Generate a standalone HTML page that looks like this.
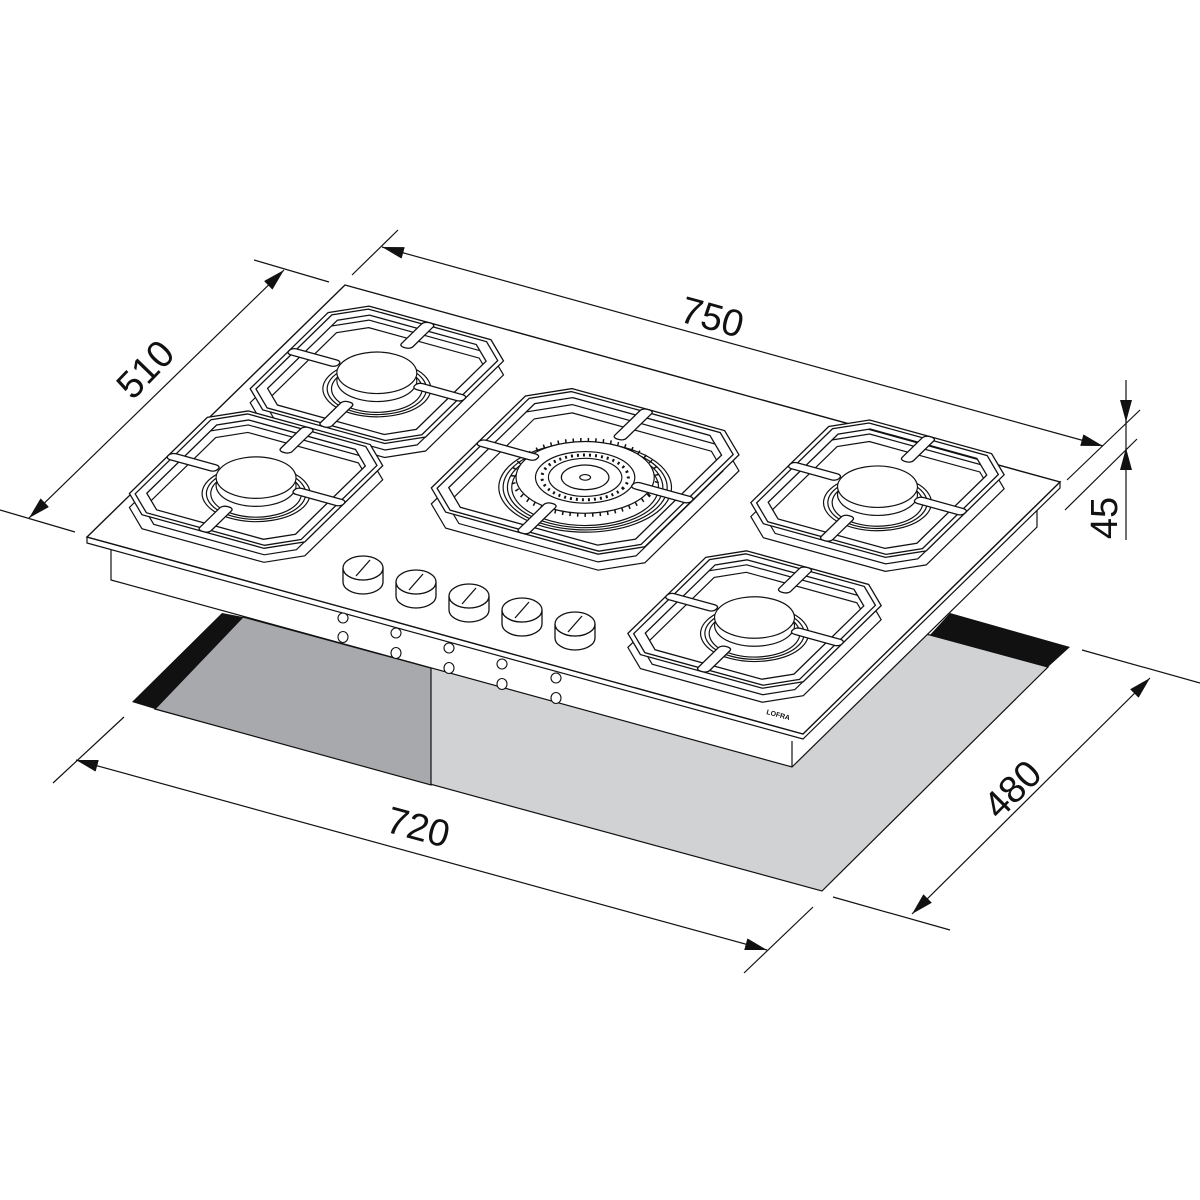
<!DOCTYPE html>
<html><head><meta charset="utf-8">
<style>
html,body{margin:0;padding:0;background:#fff;}
svg{display:block}
svg *{vector-effect:non-scaling-stroke}
.t{font-family:"Liberation Sans",Arial,sans-serif;font-size:38px;fill:#111}
</style></head>
<body>
<svg width="1200" height="1200" viewBox="0 0 1200 1200" xmlns="http://www.w3.org/2000/svg">
<defs>
<marker id="ar" viewBox="0 0 22 12" refX="22" refY="6" markerWidth="22" markerHeight="12" markerUnits="userSpaceOnUse" orient="auto-start-reverse">
<path d="M0,0 L22,6 L0,12 Z" fill="#111"/>
</marker>
<!-- small burner (plane coords) -->
<g id="sBase" fill="#fff" stroke="#111" stroke-width="1.2">
<path d="M-64,-105 L64,-105 L92,-77 L92,77 L64,105 L-64,105 L-92,77 L-92,-77 Z"/>
<path d="M-58,-93 L58,-93 L80,-71 L80,71 L58,93 L-58,93 L-80,71 L-80,-71 Z" fill="none"/>
<circle r="50"/><circle r="46" fill="none"/><circle r="42" fill="none"/>
</g>
<g id="sCap" fill="#fff" stroke="#111" stroke-width="1.2"><circle r="37"/></g>
<g id="sTop" fill="#fff" stroke="#111" stroke-width="1.3">
<path fill-rule="evenodd" d="M-64,-105 L64,-105 L92,-77 L92,77 L64,105 L-64,105 L-92,77 L-92,-77 Z M-56,-91 L56,-91 L78,-69 L78,69 L56,91 L-56,91 L-78,69 L-78,-69 Z"/>
<path fill="none" d="M-62,-100 L62,-100 L87,-75 L87,75 L62,100 L-62,100 L-87,75 L-87,-75 Z"/>
<rect x="-92" y="-6" width="52" height="12" rx="5"/>
<rect x="40" y="-6" width="52" height="12" rx="5"/>
<rect x="-6" y="-105" width="12" height="50" rx="5"/>
<rect x="-6" y="55" width="12" height="50" rx="5"/>
</g>
<!-- big burner -->
<g id="bBase" fill="#fff" stroke="#111" stroke-width="1.2">
<path d="M-80,-125 L80,-125 L112,-93 L112,93 L80,125 L-80,125 L-112,93 L-112,-93 Z"/>
<path d="M-73,-112 L73,-112 L99,-86 L99,86 L73,112 L-73,112 L-99,86 L-99,-86 Z" fill="none"/>
<circle r="80"/><circle r="76" fill="none"/><circle r="72" fill="none"/>
<circle r="68" fill="none"/>
</g>
<g id="bCap" fill="#fff" stroke="#111" stroke-width="1.2">
<circle r="64"/>
<circle r="67" fill="none" stroke-width="4" stroke-dasharray="1.5 6"/>
<circle r="46"/><circle r="40" fill="none" stroke-width="3" stroke-dasharray="2 4"/>
<circle r="34"/><circle r="22" fill="none"/><circle r="5" fill="none"/>
</g>
<g id="bTop" fill="#fff" stroke="#111" stroke-width="1.3">
<path fill-rule="evenodd" d="M-80,-125 L80,-125 L112,-93 L112,93 L80,125 L-80,125 L-112,93 L-112,-93 Z M-72,-111 L72,-111 L98,-85 L98,85 L72,111 L-72,111 L-98,85 L-98,-85 Z"/>
<path fill="none" d="M-78,-120 L78,-120 L107,-91 L107,91 L78,120 L-78,120 L-107,91 L-107,-91 Z"/>
<rect x="-112" y="-6" width="62" height="12" rx="5"/>
<rect x="50" y="-6" width="62" height="12" rx="5"/>
<rect x="-6" y="-125" width="12" height="60" rx="5"/>
<rect x="-6" y="65" width="12" height="60" rx="5"/>
</g>
</defs>

<!-- cutout -->
<polygon points="155,709 243,617 600,560 930,635 1048,667 822,891" fill="#d1d2d4" stroke="#111" stroke-width="1.2"/>
<polygon points="155,709 243,617 431,668 431,785" fill="#a7a9ac" stroke="#111" stroke-width="1.2"/>
<polygon points="132,702 222,613 243,617 155,709" fill="#111"/>
<polygon points="930,635 950,613 1070,647 1048,667" fill="#111"/>

<!-- hob body -->
<polygon points="111,543 111,580 792,767 1037,527 1037,500 803,739" fill="#fff" stroke="#111" stroke-width="1.2"/>
<line x1="792" y1="741" x2="792" y2="767" stroke="#111" stroke-width="1.2"/>
<!-- plate -->
<polygon points="87,543 803,739 1060,488 1060,482 803,734 87,537" fill="#fff" stroke="#111" stroke-width="1.2"/>
<polygon points="345,285 1060,482 803,734 87,537" fill="#fff" stroke="#111" stroke-width="1.4"/>

<!-- burners: back ones first -->
<g>
<use href="#sBase" transform="matrix(0.9533,0.2627,-0.5059,0.4941,345,285) translate(113,150)"/>
<use href="#sCap" transform="translate(0,-8) matrix(0.9533,0.2627,-0.5059,0.4941,345,285) translate(113,150)"/>
<use href="#sCap" transform="translate(0,-16) matrix(0.9533,0.2627,-0.5059,0.4941,345,285) translate(113,150)"/>
<use href="#sTop" transform="translate(0,-14) matrix(0.9533,0.2627,-0.5059,0.4941,345,285) translate(113,150)"/>

<use href="#sBase" transform="matrix(0.9533,0.2627,-0.5059,0.4941,345,285) translate(618,112)"/>
<use href="#sCap" transform="translate(0,-8) matrix(0.9533,0.2627,-0.5059,0.4941,345,285) translate(618,112)"/>
<use href="#sCap" transform="translate(0,-16) matrix(0.9533,0.2627,-0.5059,0.4941,345,285) translate(618,112)"/>
<use href="#sTop" transform="translate(0,-14) matrix(0.9533,0.2627,-0.5059,0.4941,345,285) translate(618,112)"/>

<use href="#bBase" transform="matrix(0.9533,0.2627,-0.5059,0.4941,345,285) translate(366,215)"/>
<use href="#bCap" transform="translate(0,-10) matrix(0.9533,0.2627,-0.5059,0.4941,345,285) translate(366,215)"/>
<use href="#bTop" transform="translate(0,-16) matrix(0.9533,0.2627,-0.5059,0.4941,345,285) translate(366,215)"/>

<use href="#sBase" transform="matrix(0.9533,0.2627,-0.5059,0.4941,345,285) translate(102,368)"/>
<use href="#sCap" transform="translate(0,-8) matrix(0.9533,0.2627,-0.5059,0.4941,345,285) translate(102,368)"/>
<use href="#sCap" transform="translate(0,-16) matrix(0.9533,0.2627,-0.5059,0.4941,345,285) translate(102,368)"/>
<use href="#sTop" transform="translate(0,-14) matrix(0.9533,0.2627,-0.5059,0.4941,345,285) translate(102,368)"/>

<use href="#sBase" transform="matrix(0.9533,0.2627,-0.5059,0.4941,345,285) translate(627,372)"/>
<use href="#sCap" transform="translate(0,-8) matrix(0.9533,0.2627,-0.5059,0.4941,345,285) translate(627,372)"/>
<use href="#sCap" transform="translate(0,-16) matrix(0.9533,0.2627,-0.5059,0.4941,345,285) translate(627,372)"/>
<use href="#sTop" transform="translate(0,-14) matrix(0.9533,0.2627,-0.5059,0.4941,345,285) translate(627,372)"/>
</g>

<!-- knobs -->
<g fill="#fff" stroke="#111" stroke-width="1.3">
<path d="M343,568 A20,12 0 0 0 383,568 L383,582 A20,12 0 0 1 343,582 Z"/><ellipse cx="363" cy="568" rx="20" ry="12"/><line x1="356" y1="576" x2="370" y2="560"/>
<path d="M396,582 A20,12 0 0 0 436,582 L436,596 A20,12 0 0 1 396,596 Z"/><ellipse cx="416" cy="582" rx="20" ry="12"/><line x1="409" y1="590" x2="423" y2="574"/>
<path d="M449,596 A20,12 0 0 0 489,596 L489,610 A20,12 0 0 1 449,610 Z"/><ellipse cx="469" cy="596" rx="20" ry="12"/><line x1="462" y1="604" x2="476" y2="588"/>
<path d="M502,610 A20,12 0 0 0 542,610 L542,624 A20,12 0 0 1 502,624 Z"/><ellipse cx="522" cy="610" rx="20" ry="12"/><line x1="515" y1="618" x2="529" y2="602"/>
<path d="M555,624 A20,12 0 0 0 595,624 L595,638 A20,12 0 0 1 555,638 Z"/><ellipse cx="575" cy="624" rx="20" ry="12"/><line x1="568" y1="632" x2="582" y2="616"/>
</g>
<!-- holes -->
<g fill="#fff" stroke="#111" stroke-width="1.1">
<ellipse cx="343" cy="618" rx="5" ry="5"/><ellipse cx="343" cy="637" rx="5" ry="5.5"/>
<ellipse cx="396" cy="633" rx="5" ry="5"/><ellipse cx="396" cy="653" rx="5" ry="5.5"/>
<ellipse cx="449" cy="648" rx="5" ry="5"/><ellipse cx="449" cy="668" rx="5" ry="5.5"/>
<ellipse cx="502" cy="664" rx="5" ry="5"/><ellipse cx="502" cy="684" rx="5" ry="5.5"/>
<ellipse cx="556" cy="678" rx="5" ry="5"/><ellipse cx="556" cy="698" rx="5" ry="5.5"/>
</g>
<text x="766" y="714" transform="rotate(15 766 714)" font-family="Liberation Sans,sans-serif" font-size="7" font-weight="bold" fill="#111">LOFRA</text>

<!-- dimensions -->
<g stroke="#111" stroke-width="1.2" fill="none">
<line x1="254" y1="260" x2="329" y2="282"/>
<line x1="0" y1="510" x2="75" y2="532"/>
<line x1="284" y1="270" x2="29" y2="518" marker-start="url(#ar)" marker-end="url(#ar)"/>

<line x1="352" y1="275" x2="398" y2="230"/>
<line x1="1067" y1="480" x2="1140" y2="410"/>
<line x1="1065" y1="510" x2="1137" y2="439"/>
<line x1="382" y1="247" x2="1103" y2="446" marker-start="url(#ar)" marker-end="url(#ar)"/>

<line x1="1126" y1="380" x2="1126" y2="422" marker-end="url(#ar)"/>
<line x1="1126" y1="540" x2="1126" y2="448" marker-end="url(#ar)"/>
<line x1="1126" y1="420" x2="1126" y2="450"/>

<line x1="1082" y1="650" x2="1200" y2="683"/>
<line x1="833" y1="897" x2="950" y2="930"/>
<line x1="1150" y1="678" x2="912" y2="914" marker-start="url(#ar)" marker-end="url(#ar)"/>

<line x1="124" y1="717" x2="53" y2="783"/>
<line x1="813" y1="907" x2="744" y2="973"/>
<line x1="76" y1="760" x2="767" y2="950" marker-start="url(#ar)" marker-end="url(#ar)"/>
</g>
<text class="t" x="146" y="370" text-anchor="middle" dominant-baseline="central" transform="rotate(-46 146 370)">510</text>
<text class="t" x="712" y="318" text-anchor="middle" dominant-baseline="central" transform="rotate(15.4 712 318)">750</text>
<text class="t" x="1105" y="518" text-anchor="middle" dominant-baseline="central" transform="rotate(-90 1105 518)">45</text>
<text class="t" x="1013" y="790" text-anchor="middle" dominant-baseline="central" transform="rotate(-45 1013 790)">480</text>
<text class="t" x="418" y="828" text-anchor="middle" dominant-baseline="central" transform="rotate(15 418 828)">720</text>
</svg>
</body></html>
